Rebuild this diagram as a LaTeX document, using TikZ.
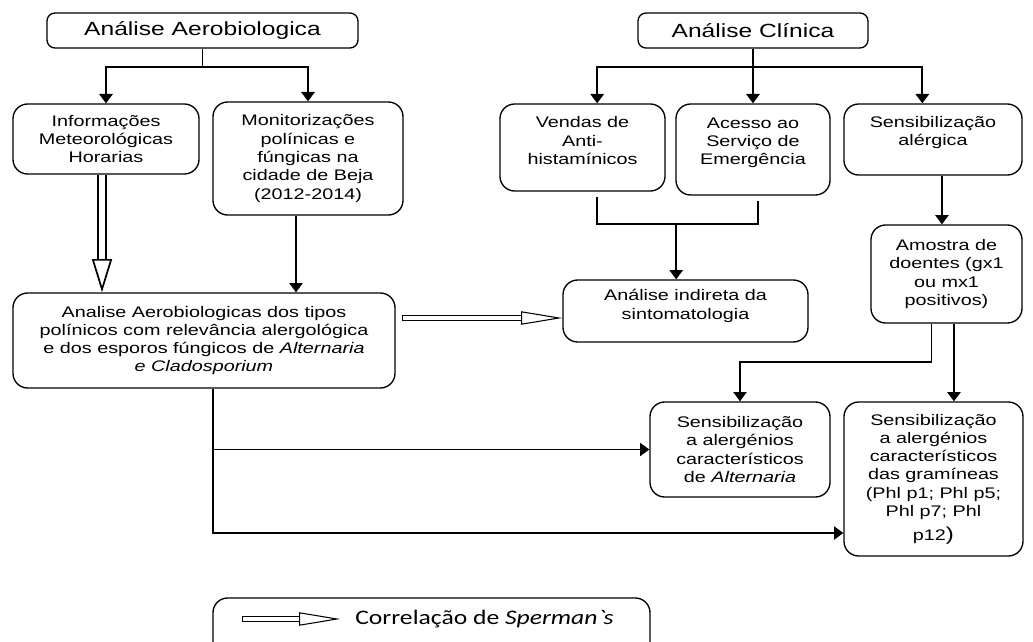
\documentclass[tikz,border=0pt]{standalone}
\usepackage{fontspec}
\setmainfont{Liberation Sans}[FakeStretch=1.29]
\newfontfamily\legfont{Carlito}[FakeStretch=1.24]
\usetikzlibrary{arrows.meta,calc}
\tikzset{
  sz/.style 2 args={minimum width=#1*0.75pt,minimum height=#2*0.75pt},
  box/.style={draw,rounded corners=11pt,line width=1pt,align=center,inner sep=0pt,
    font=\fontsize{11.5}{13.7}\selectfont},
  hdr/.style={box,rounded corners=6pt,font=\fontsize{14.3}{16}\selectfont},
  stem/.style={line width=1.4pt},
  arr/.style={-{Triangle[length=7pt,width=10pt]},line width=1.4pt},
  thinarr/.style={-{Triangle[length=7pt,width=10pt]},line width=0.9pt},
  % hollow (correlation) arrows
  holv/.style={double,double distance=4pt,line width=1.4pt,
    -{Triangle[open,length=25pt,width=15pt,line width'=1.3pt]}},
  holh/.style={double,double distance=3.6pt,line width=0.8pt,
    {Bar[width=4.4pt,line width'=0.8pt]}-{Triangle[open,length=31pt,width=10pt,line width'=0.8pt]}},
  legtext/.style={font=\legfont\fontsize{15.5}{18}\selectfont,anchor=west,inner sep=0pt},
}

\begin{document}
\begin{tikzpicture}[x=0.75pt,y=-0.75pt]
  \useasboundingbox (0,0) rectangle (1033,642);
  % headers
  \node[hdr,sz={311}{35}] (aero) at (202.5,30.5) {Análise Aerobiologica};
  \node[hdr,sz={230}{35}] (clin) at (753,30.5) {Análise Clínica};
  % aerobiological side
  \node[box,sz={186}{70}] (info) at (106,139) {Informações\\Meteorológicas\\Horarias};
  \node[box,sz={190}{113}] (moni) at (308,158.5) {Monitorizações\\polínicas e\\fúngicas na\\cidade de Beja\\(2012-2014)};
  \node[box,sz={382}{95}] (aobio) at (204,340.5) {Analise Aerobiologicas dos tipos\\polínicos com relevância alergológica\\e dos esporos fúngicos de \textit{Alternaria}\\\textit{e Cladosporium}};
  % clinical side
  \node[box,sz={165}{87},text depth=10.5pt] (vend) at (582.5,147.5) {Vendas de\\Anti-\\histamínicos};
  \node[box,sz={154}{91},text depth=12.3pt] (aces) at (753,149.5) {Acesso ao\\Serviço de\\Emergência};
  \node[box,sz={178}{71},text depth=13pt] (sens) at (933,139.5) {Sensibilização\\alérgica};
  \node[box,sz={245}{62},text depth=10pt] (indir) at (685.5,311) {Análise indireta da\\sintomatologia};
  \node[box,sz={151}{98}] (amostra) at (946.5,274) {Amostra de\\doentes (gx1\\ou mx1\\positivos)};
  \node[box,sz={180}{95}] (alt) at (740,449.5) {Sensibilização\\a alergénios\\característicos\\de \textit{Alternaria}};
  \node[box,sz={179}{154}] (gram) at (933.5,479) {Sensibilização\\a alergénios\\característicos\\das gramíneas\\(Phl p1; Phl p5;\\Phl p7; Phl\\[4pt]p12{\fontsize{14}{14}\selectfont)}};
  % legend
  \node[box,sz={437}{70}] (legbox) at (431.5,633) {};
  \node[legtext] (legtxt) at (355,619) {Correlação de \textit{Sperman\textasciigrave s}};
  \coordinate (legA) at (242,619);

  % header branches
  \coordinate (aj) at (aero.south |- 0,67);
  \draw[stem] (aero.south) -- (aj);
  \draw[arr] (aj) -| (info.north);
  \draw[arr] (aj) -| (moni.north);
  \coordinate (cj) at (clin.south |- 0,67);
  \draw[arr] (clin.south) -- (aces.north);
  \draw[arr] (cj) -| ([xshift=11pt]vend.north);
  \draw[arr] (cj) -| ([xshift=-8pt]sens.north);

  \draw[holv] ([xshift=-3pt]info.south) -- ([xshift=-3pt]info.south |- aobio.north);
  \draw[arr] ([xshift=-9pt]moni.south) -- ([xshift=-9pt]moni.south |- aobio.north);
  \draw[holh,shorten <=5pt] (aobio.east |- 0,318) -- (indir.west |- 0,318);

  % indirect symptom analysis
  \coordinate (sj) at (indir.north |- 0,224);
  \draw[stem] ([xshift=11pt,yshift=-4pt]vend.south) |- ([xshift=4pt]aces.south |- sj)
    -- ([xshift=4pt,yshift=-4pt]aces.south);
  \draw[arr] ([xshift=-7pt]sj) -- ([xshift=-7pt]indir.north);

  % sensitisation
  \draw[arr] ([xshift=-3.4pt]amostra.north |- sens.south) -- ([xshift=-3.4pt]amostra.north);
  \draw[thinarr] ([xshift=-11pt]amostra.south) |- (alt.north |- 0,362) -- (alt.north);
  \draw[arr] ([xshift=5.6pt]amostra.south) -- ([xshift=5.6pt]amostra.south |- gram.north);

  \coordinate (bj) at ([xshift=6.75pt]aobio.south |- alt.west);
  \draw[thinarr] ([xshift=6.75pt]aobio.south) |- (gram.west |- 0,533);
  \draw[thinarr] (bj) -- (alt.west);

  \draw[holh] (legA) -- ([xshift=-11pt]legtxt.west);
\end{tikzpicture}
\end{document}
